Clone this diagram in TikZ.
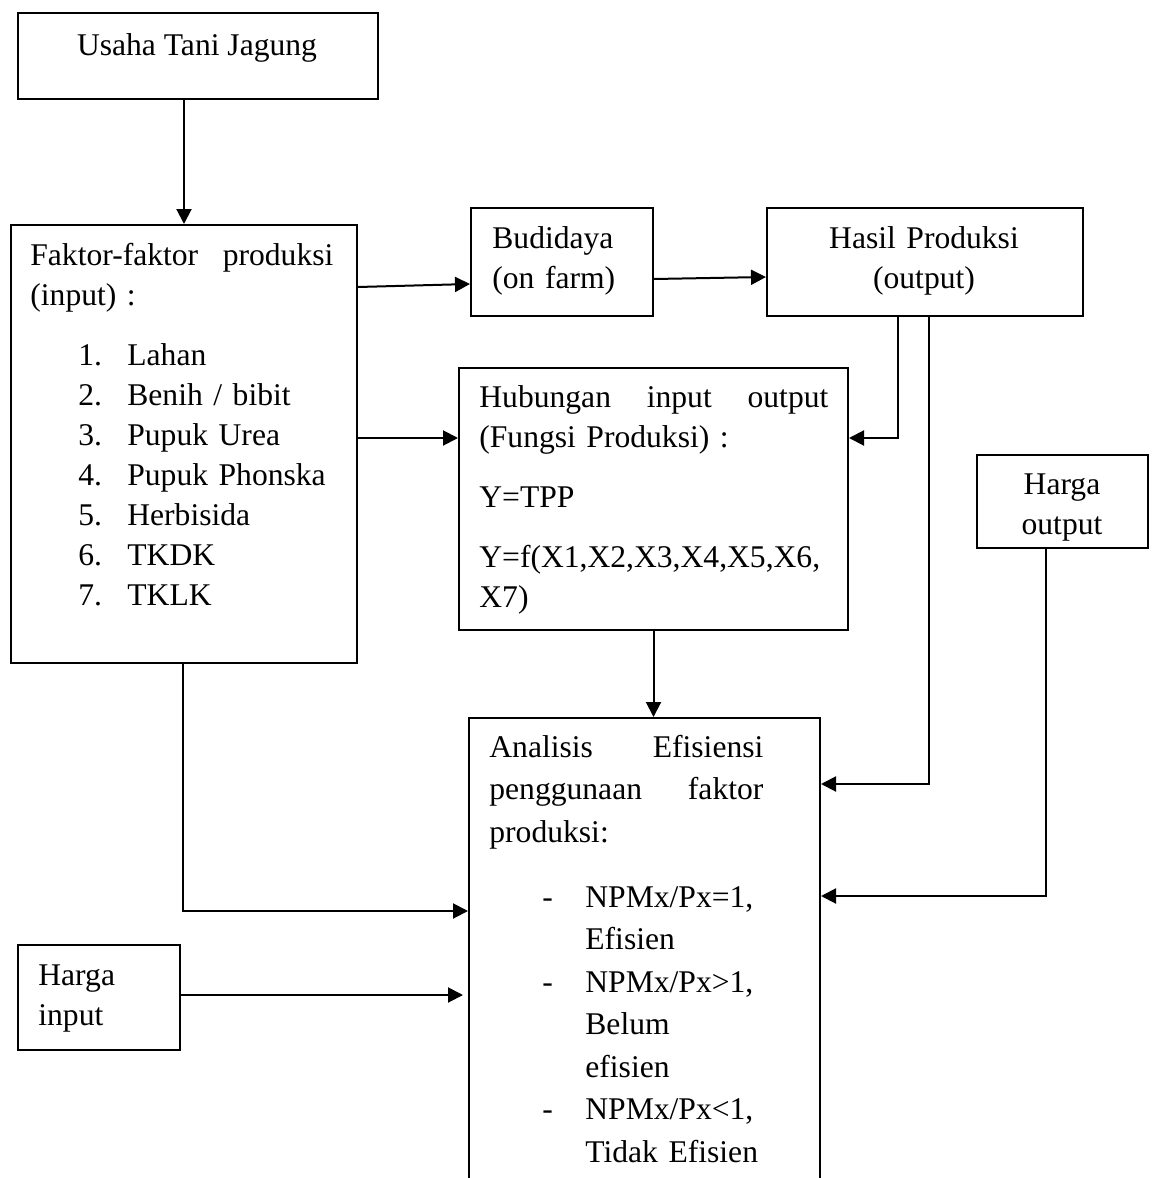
\documentclass[tikz,border=0pt]{standalone}
\usepackage{fontspec}
\setmainfont{Liberation Serif}
\usetikzlibrary{arrows.meta}
\begin{document}
\begin{tikzpicture}[x=0.5pt,y=-0.5pt,
  box/.style={draw, line width=1pt, inner sep=0pt, anchor=north west},
  arr/.style={line width=1pt, -{Triangle[length=7.5pt,width=7.5pt]}},
  txt/.style={inner sep=0pt, font=\fontsize{15.8pt}{20pt}\selectfont, align=left},
]
\useasboundingbox (0,0) rectangle (1154,1178);
\fill[white] (0,0) rectangle (1154,1178);
\clip (0,0) rectangle (1154,1178);

% boxes
\node[box, minimum width=180pt, minimum height=43pt] (usaha) at (17,12) {};
\node[box, minimum width=173pt, minimum height=219pt] (faktor) at (10,224) {};
\node[box, minimum width=91pt, minimum height=54pt] (budi) at (470,207) {};
\node[box, minimum width=158pt, minimum height=54pt] (hasil) at (766,207) {};
\node[box, minimum width=194.5pt, minimum height=131pt] (hub) at (458,367) {};
\node[box, minimum width=85.5pt, minimum height=46.5pt] (hout) at (976,454) {};
\node[box, minimum width=175.5pt, minimum height=300pt] (anal) at (468,717) {};
\node[box, minimum width=81pt, minimum height=52.5pt] (hin) at (17,944) {};

% texts
\node[txt, anchor=base] (tusaha) at (197,55) {Usaha Tani Jagung};
\node[txt, anchor=base west, text width=151.5pt] (tfaktor) at (30,265)
  {Faktor-faktor\hfill produksi\\(input) :\\[10pt]
   \hspace*{24pt}\makebox[24.5pt][l]{1.}Lahan\\
   \hspace*{24pt}\makebox[24.5pt][l]{2.}Benih / bibit\\
   \hspace*{24pt}\makebox[24.5pt][l]{3.}Pupuk Urea\\
   \hspace*{24pt}\makebox[24.5pt][l]{4.}Pupuk Phonska\\
   \hspace*{24pt}\makebox[24.5pt][l]{5.}Herbisida\\
   \hspace*{24pt}\makebox[24.5pt][l]{6.}TKDK\\
   \hspace*{24pt}\makebox[24.5pt][l]{7.}TKLK};
\node[txt, anchor=base west, text width=80pt] (tbudi) at (492,248) {Budidaya\\(on farm)};
\node[txt, anchor=base, text width=158pt, align=center] (thasil) at (924,248) {Hasil Produksi\\(output)};
\node[txt, anchor=base west, text width=174.5pt] (thub) at (479,407)
  {Hubungan\hfill input\hfill output\\(Fungsi Produksi) :\\[10pt]Y=TPP\\[10pt]Y=f(X1,X2,X3,X4,X5,X6,\\X7)};
\node[txt, anchor=base, text width=85.5pt, align=center] (thout) at (1062,494) {Harga\\output};
\node[txt, anchor=base west, text width=70pt] (thin) at (38,985) {Harga\\input};
\node[txt, anchor=base west, text width=137pt, font=\fontsize{15.8pt}{21.25pt}\selectfont] (tanal) at (489,757)
  {Analisis\hfill Efisiensi\\penggunaan\hfill faktor\\produksi:\\[11.25pt]
   \hspace*{26.5pt}\makebox[21.5pt][l]{-}NPMx/Px=1,\\
   \hspace*{48pt}Efisien\\
   \hspace*{26.5pt}\makebox[21.5pt][l]{-}NPMx/Px>1,\\
   \hspace*{48pt}Belum\\
   \hspace*{48pt}efisien\\
   \hspace*{26.5pt}\makebox[21.5pt][l]{-}NPMx/Px<1,\\
   \hspace*{48pt}Tidak Efisien};

% connectors
\coordinate (p1) at ([xshift=83.5pt]usaha.south west);
\draw[arr] (p1) -- (p1 |- faktor.north);
\draw[arr] ([yshift=-31.5pt]faktor.north east) -- ([yshift=-38.5pt]budi.north west);
\draw[arr] ([yshift=-36pt]budi.north east) -- ([yshift=-35pt]hasil.north west);
\draw[arr] ([yshift=-107pt]faktor.north east) -- ([yshift=-35.5pt]hub.north west);
\draw[arr] ([xshift=66pt]hasil.south west) |- ([yshift=-35.5pt]hub.north east);
\draw[arr] ([xshift=81.5pt]hasil.south west) |- ([yshift=-33.5pt]anal.north east);
\draw[arr] (hub.south) -- (hub.south |- anal.north);
\draw[arr] ([xshift=35pt]hout.south west) |- ([yshift=-89.5pt]anal.north east);
\draw[arr] ([xshift=86.5pt]faktor.south west) |- ([yshift=-97pt]anal.north west);
\draw[arr, shorten >=2.5pt] ([yshift=-25.5pt]hin.north east) -- ([yshift=-139pt]anal.north west);
\end{tikzpicture}
\end{document}
